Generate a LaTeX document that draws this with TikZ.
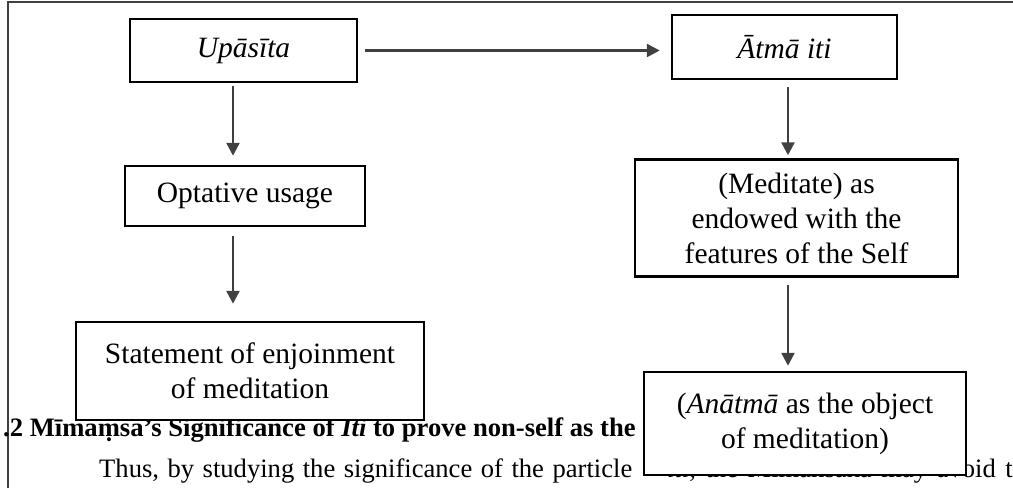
\documentclass[tikz,border=0pt]{standalone}
\usepackage{fontspec}
\setmainfont{Liberation Serif}
\usetikzlibrary{arrows.meta}

\tikzset{
  box/.style={draw=black,line width=2.5pt,fill=white,rectangle,align=center,
    font=\fontsize{29.5}{35}\selectfont,inner sep=0pt},
  arr/.style={draw=black!75,line width=2.5pt,-{Triangle[length=13pt,width=13pt]}},
  frame/.style={draw=black!75,line width=2.5pt},
  pagetext/.style={anchor=base west,inner sep=0pt,font=\fontsize{26.6}{32}\selectfont}
}

\begin{document}
\begin{tikzpicture}
  [x=1pt,y=-1pt]
  \useasboundingbox (0,0) rectangle (1013,488);
  \draw[frame] (8,488) -- (8,2) -- (1013,2);

  % page text behind the chart
  \node[pagetext,font=\fontsize{26.6}{32}\selectfont\bfseries] (head) at (3,436)
    {.2 Mīmaṃsa's Significance of \textit{Iti} to prove non-self as the};
  \begin{scope}
    \clip (0,0) rectangle (1013,488);
    \node[pagetext] (body1) at (99,477)
      {\spaceskip=0.32em Thus, by studying the significance of the particle};
    \node[pagetext,anchor=base east] (body2) at (996,477)
      {\spaceskip=0.36em \textit{iti}, the Mīmānsaka may avoid\rlap{ the}};
  \end{scope}

  \node[box,minimum width=227pt,minimum height=63pt] (n1) at (243.5,50.5) {\textit{Upāsīta}};
  \node[box,minimum width=225pt,minimum height=64pt] (n2) at (784.5,47) {\textit{Ātmā iti}};
  \node[box,minimum width=240pt,minimum height=60pt] (n3) at (245,196) {Optative usage};
  \node[box,minimum width=323pt,minimum height=117pt] (n4) at (796.5,218) {(Meditate) as\\endowed with the\\features of the Self};
  \node[box,minimum width=348pt,minimum height=98pt] (n5) at (250,371) {Statement of enjoinment\\of meditation};
  \node[box,minimum width=322pt,minimum height=103pt] (n6) at (805,423.5) {(\textit{Anātmā} as the object\\of meditation)};

  \draw[arr,shorten <=7pt,shorten >=11pt] (n1.east) -- (n1.east -| n2.west);
  \foreach \from/\to/\dx/\a/\b in {n1/n3/-10.5/3/9,n3/n5/-12/9/17,n2/n4/3.5/7/3,n4/n6/-8.5/7/5}
    \draw[arr,shorten <=\a pt,shorten >=\b pt] ([xshift=\dx pt]\from.south) -- ([xshift=\dx pt]\from.south |- \to.north);
\end{tikzpicture}
\end{document}
